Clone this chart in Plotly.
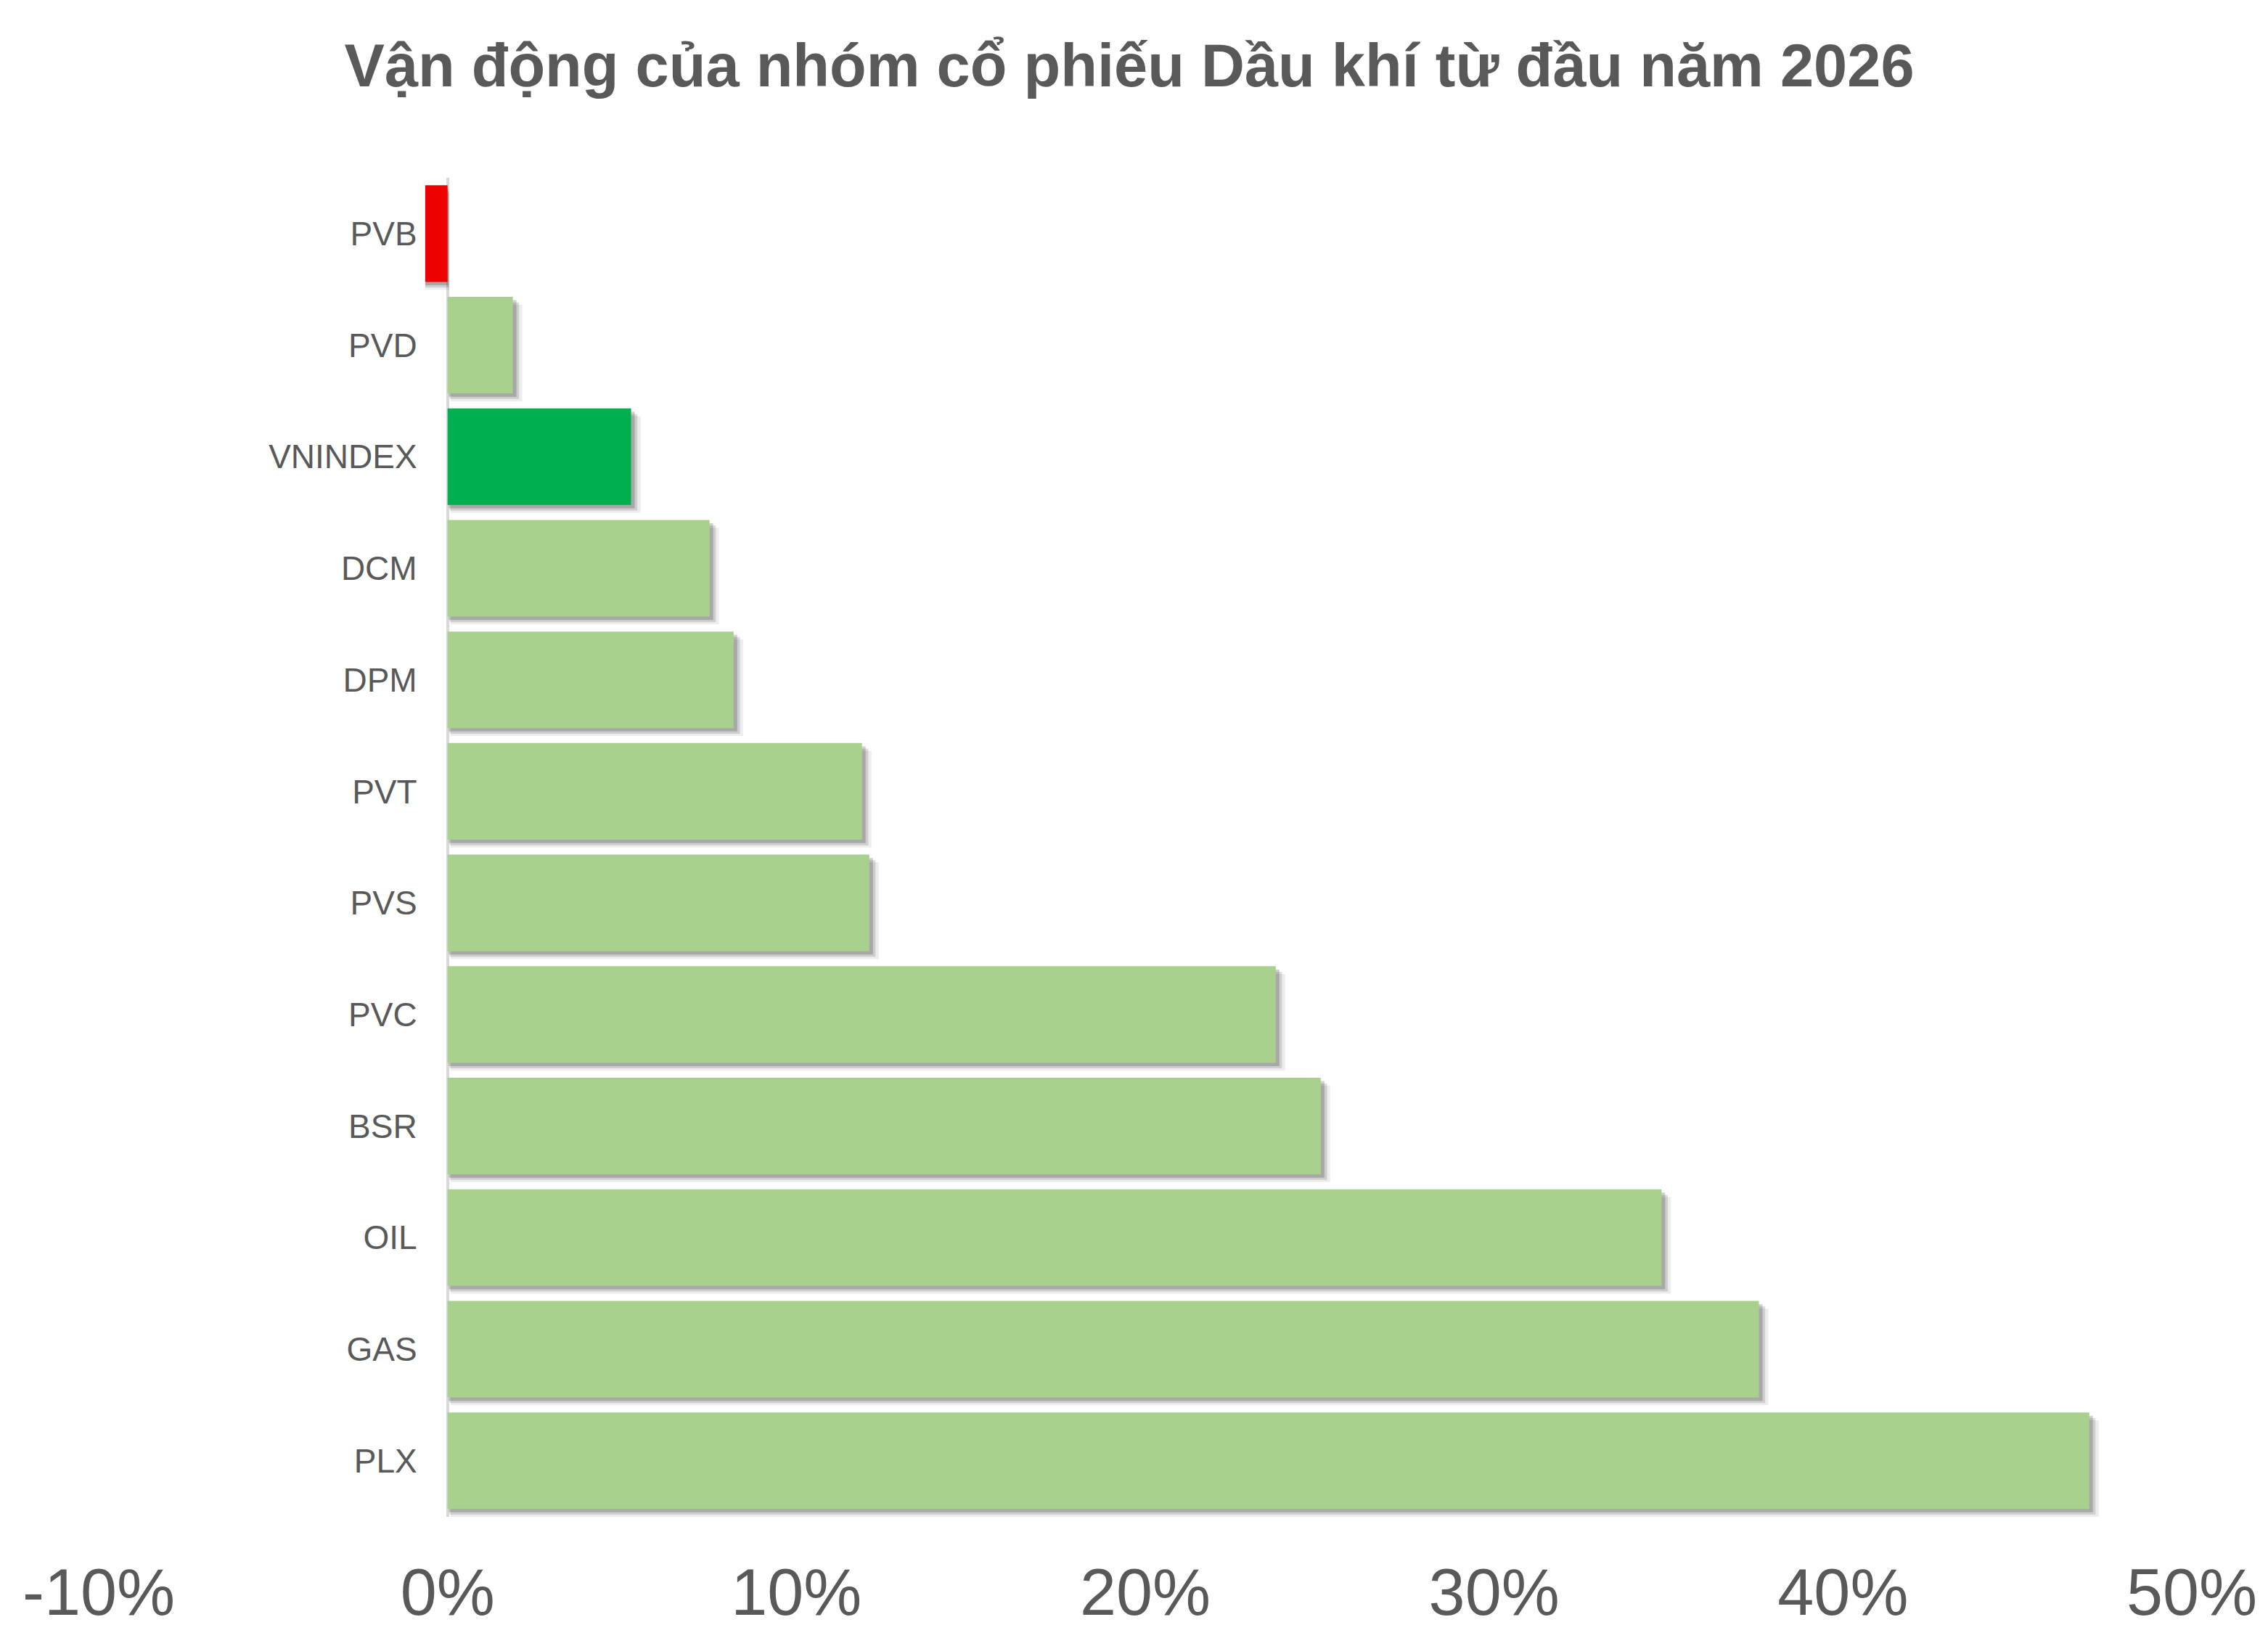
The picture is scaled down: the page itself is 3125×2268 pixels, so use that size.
import plotly.graph_objects as go

categories = ["PVB", "PVD", "VNINDEX", "DCM", "DPM", "PVT", "PVS", "PVC", "BSR", "OIL", "GAS", "PLX"]
values = [-0.64, 1.87, 5.26, 7.51, 8.20, 11.88, 12.09, 23.74, 25.03, 34.80, 37.59, 47.06]
bar_colors = ["#EE0000", "#A9D18E", "#00B050", "#A9D18E", "#A9D18E", "#A9D18E",
              "#A9D18E", "#A9D18E", "#A9D18E", "#A9D18E", "#A9D18E", "#A9D18E"]
tick_vals = [-10, 0, 10, 20, 30, 40, 50]
tick_text = ["-10%", "0%", "10%", "20%", "30%", "40%", "50%"]
title_text = "Vận động của nhóm cổ phiếu Dầu khí từ đầu năm 2026"

FONT = "Liberation Sans, Arial, sans-serif"
GRAY = "#595959"

fig = go.Figure()

# soft drop shadow (derived from the same values)
for dx, dy, alpha in [(0.18, 0.07, 0.07), (0.12, 0.05, 0.13), (0.07, 0.03, 0.18)]:
    fig.add_trace(go.Bar(
        y=categories,
        x=[v + (dx if v >= 0 else -dx * 0.3) for v in values],
        base=[dx * 0.5 if v >= 0 else dx * 0.3 for v in values],
        orientation="h",
        marker=dict(color=f"rgba(0,0,0,{alpha})", line=dict(width=0)),
        width=0.866,
        offset=-0.433 + dy,
        hoverinfo="skip",
        showlegend=False,
    ))

fig.add_trace(go.Bar(
    y=categories,
    x=values,
    orientation="h",
    marker=dict(color=bar_colors, line=dict(width=0)),
    width=0.866,
    offset=-0.433,
    showlegend=False,
))

fig.update_layout(
    width=3125,
    height=2268,
    paper_bgcolor="white",
    plot_bgcolor="white",
    barmode="overlay",
    margin=dict(l=136, r=105, t=245, b=178),
    title=dict(
        text=title_text,
        x=1556 / 3125,
        xanchor="center",
        y=1 - 90 / 2268,
        yanchor="middle",
        font=dict(family=FONT, size=83, color=GRAY, weight="bold"),
    ),
    xaxis=dict(
        range=[-10, 50],
        tickvals=tick_vals,
        ticktext=tick_text,
        showgrid=False,
        zeroline=True,
        zerolinecolor="#D9D9D9",
        zerolinewidth=4,
        showline=False,
        ticks="",
        ticklabelstandoff=44,
        tickfont=dict(family=FONT, size=90, color=GRAY),
    ),
    yaxis=dict(
        type="category",
        categoryorder="array",
        categoryarray=categories,
        autorange="reversed",
        anchor="free",
        position=1 / 6,
        showgrid=False,
        zeroline=False,
        showline=False,
        ticks="",
        ticklabelstandoff=42,
        tickfont=dict(family=FONT, size=46, color=GRAY),
    ),
)

fig.write_html("out.html", config={"displayModeBar": False},
               post_script="document.body.style.margin='0';")
